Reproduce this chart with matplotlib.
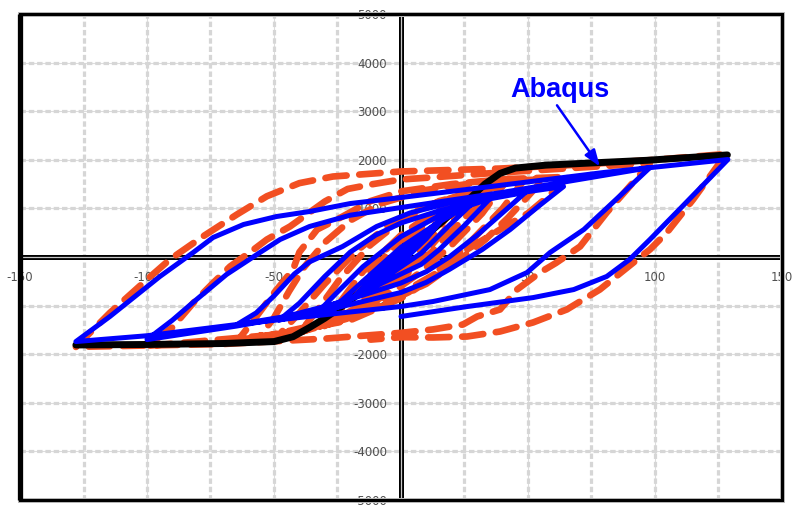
import matplotlib
matplotlib.use("Agg")
import matplotlib.pyplot as plt
from matplotlib.patches import Rectangle

plt.rcParams['axes.unicode_minus'] = False
plt.rcParams['font.family'] = ['DejaVu Sans']

# ---------------- data ----------------
x_ticks = [-150, -100, -50, 0, 50, 100, 150]
x_minor = [-125, -75, -25, 25, 75, 125]
y_ticks = [-5000, -4000, -3000, -2000, -1000, 0, 1000, 2000, 3000, 4000, 5000]

# Black backbone (envelope)
bb_x = [-128, -100, -70, -50, -42.5, -36, -30, -20, -10, 0, 10, 20, 28, 33, 39, 45, 57, 97, 128.5]
bb_y = [-1810, -1800, -1780, -1740, -1640, -1450, -1260, -900, -450, 0, 450, 900, 1250, 1500, 1720, 1830, 1890, 1990, 2100]

# Abaqus (blue) branches: initial load, then reload (neg->pos) / unload (pos->next neg)
ab_init_x = [0, -6]
ab_init_y = [0, -280]
ab_ra_x = [-6, 0, 6]
ab_ra_y = [-280, 20, 300]
ab_ua_x = [6, 0, -12]
ab_ua_y = [300, -20, -560]
ab_rb_x = [-12, 0, 12]
ab_rb_y = [-560, 40, 600]
ab_ub_x = [12, 0, -18]
ab_ub_y = [600, -60, -800]
ab_r1_x = [-18, -10, 0, 10, 18]
ab_r1_y = [-800, -380, 100, 520, 880]
ab_u1_x = [18, 10, 0, -15, -28]
ab_u1_y = [880, 380, -120, -720, -1120]
ab_r2_x = [-28, -15, 0, 15, 28]
ab_r2_y = [-1120, -500, 200, 720, 1100]
ab_u2_x = [28, 18, 8, 0, -15, -33]
ab_u2_y = [1100, 600, 80, -200, -750, -1150]
ab_r3_x = [-33, -25, -15, 0, 15, 35]
ab_r3_y = [-1150, -720, -200, 420, 850, 1200]
ab_u3_x = [35, 25, 15, 8, 0, -20, -35, -48]
ab_u3_y = [1200, 650, 150, -150, -350, -850, -1120, -1300]
ab_r4_x = [-48, -40, -30, -20, -10, 0, 15, 30, 49]
ab_r4_y = [-1300, -950, -400, 100, 450, 700, 950, 1150, 1330]
ab_u4_x = [49, 43, 30, 19, 10, 0, -25, -45, -64.6]
ab_u4_y = [1330, 1050, 450, 0, -300, -535, -950, -1220, -1390]
ab_r5_x = [-64.6, -57, -50, -42, -36, -23, -9.6, 3.5, 19, 32, 48, 64]
ab_r5_y = [-1390, -1150, -800, -350, -100, 216, 628, 906, 1111, 1214, 1330, 1450]
ab_u5_x = [64, 55, 43, 32, 19, 10, 0, -30, -64.6, -100]
ab_u5_y = [1450, 1080, 566, 154, -257, -520, -730, -1100, -1420, -1700]
ab_r6_x = [-100, -90, -82, -68.7, -55.5, -47.6, -36, -20, 0, 40, 98]
ab_r6_y = [-1700, -1300, -940, -360, 93, 360, 628, 860, 1018, 1330, 1840]
ab_u6_x = [98, 85, 72, 58.7, 49.6, 35, 12.6, 0, -40, -64.6, -100, -128]
ab_u6_y = [1840, 1200, 566, 93, -320, -670, -916, -1018, -1245, -1389, -1620, -1740]
ab_r7_x = [-128, -114.6, -94.9, -81.8, -74, -62, -49, -36, -20, 0, 40, 80, 128.7]
ab_r7_y = [-1740, -1224, -400, 93, 401, 669, 833, 936, 1100, 1224, 1480, 1740, 2006]
ab_u7_x = [128.7, 110, 98, 90, 81, 68, 52, 26, 0]
ab_u7_y = [2006, 1000, 360, -51, -400, -670, -835, -1020, -1224]

# Experimental (orange dashed) branches
ex_init_x = [0, -10, -20]
ex_init_y = [0, -600, -1200]
ex_r1_x = [-20, -12, 0, 10, 22]
ex_r1_y = [-1200, -600, 200, 700, 1100]
ex_u1_x = [22, 12, 0, -15, -28]
ex_u1_y = [1100, 400, -300, -950, -1380]
ex_r2_x = [-28, -20, -10, 0, 12, 28]
ex_r2_y = [-1380, -850, -200, 350, 850, 1250]
ex_u2_x = [28, 18, 8, 0, -15, -33]
ex_u2_y = [1250, 600, 0, -400, -1000, -1500]
ex_r3_x = [-33, -25, -15, 0, 15, 35]
ex_r3_y = [-1500, -1000, -300, 450, 1000, 1400]
ex_u3_x = [35, 25, 12, 0, -20, -40]
ex_u3_y = [1400, 800, 100, -450, -1150, -1560]
ex_r4_x = [-40, -33, -24, -12, 0, 15, 40]
ex_r4_y = [-1560, -1100, -450, 250, 750, 1150, 1470]
ex_u4_x = [40, 32, 20, 8, 0, -20, -48]
ex_u4_y = [1470, 900, 250, -300, -600, -1200, -1600]
ex_r5_x = [-48, -40, -30, -18, -5, 10, 28, 48]
ex_r5_y = [-1600, -1150, -550, 100, 650, 1050, 1350, 1550]
ex_u5_x = [48, 40, 28, 15, 0, -25, -56]
ex_u5_y = [1550, 1000, 350, -300, -750, -1300, -1660]
ex_r6_x = [-56, -50, -44, -38, -30, -20, -8, 10, 30, 56]
ex_r6_y = [-1660, -1250, -700, -200, 300, 750, 1100, 1380, 1530, 1600]
ex_u6_x = [56, 50, 42, 33, 22, 10, 0, -20, -40, -64]
ex_u6_y = [1600, 1250, 800, 350, -100, -550, -800, -1250, -1550, -1700]
ex_r7_x = [-64, -58, -50, -42.5, -40, -33, -23, -12, 0, 20, 40, 66]
ex_r7_y = [-1700, -1300, -740, -257, 100, 566, 833, 1150, 1350, 1500, 1600, 1650]
ex_u7_x = [66, 58, 50, 39, 26, 18, 7.5, 0, -20, -50, -100]
ex_u7_y = [1650, 1250, 900, 566, 154, -123, -600, -850, -1300, -1600, -1830]
ex_r8_x = [-100, -90, -81.8, -74, -67.3, -58, -52.8, -43.7, -30, -21, -11, 0, 10, 39, 70, 98]
ex_r8_y = [-1830, -1450, -946, -535, -195, 154, 360, 628, 1142, 1400, 1500, 1595, 1630, 1738, 1840, 1930]
ex_u8_x = [98, 81, 70.5, 61, 54.7, 45.7, 39, 30, 24.4, 12.6, 0, -30, -70, -128]
ex_u8_y = [1930, 915, 216, -123, -320, -669, -1080, -1224, -1389, -1490, -1560, -1680, -1790, -1850]
ex_r9_x = [-128, -114.6, -100, -91, -78, -64.6, -52.8, -40, -26.8, 0, 39, 70, 100, 128]
ex_r9_y = [-1850, -1148, -463, -51, 422, 875, 1250, 1520, 1656, 1760, 1820, 1900, 2000, 2120]
ex_u9_x = [128, 115, 104.7, 98, 91.3, 78.3, 65.3, 52, 39, 26, 12.6, 0, -12]
ex_u9_y = [2120, 1183, 504, 154, -123, -669, -1080, -1347, -1533, -1636, -1656, -1650, -1700]

label_text = "Abaqus"
label_xy = (62.6, 3446)
arrow_tip = (78.3, 1862)

# ---------------- build paths ----------------
def chain(*segs):
    xs, ys = [], []
    for sx, sy in segs:
        if xs:
            sx, sy = sx[1:], sy[1:]
        xs += list(sx)
        ys += list(sy)
    return xs, ys

ab_x, ab_y = chain((ab_init_x, ab_init_y), (ab_ra_x, ab_ra_y), (ab_ua_x, ab_ua_y),
                   (ab_rb_x, ab_rb_y), (ab_ub_x, ab_ub_y),
                   (ab_r1_x, ab_r1_y), (ab_u1_x, ab_u1_y),
                   (ab_r2_x, ab_r2_y), (ab_u2_x, ab_u2_y), (ab_r3_x, ab_r3_y),
                   (ab_u3_x, ab_u3_y), (ab_r4_x, ab_r4_y), (ab_u4_x, ab_u4_y),
                   (ab_r5_x, ab_r5_y), (ab_u5_x, ab_u5_y), (ab_r6_x, ab_r6_y),
                   (ab_u6_x, ab_u6_y), (ab_r7_x, ab_r7_y), (ab_u7_x, ab_u7_y))
ex_x, ex_y = chain((ex_init_x, ex_init_y), (ex_r1_x, ex_r1_y), (ex_u1_x, ex_u1_y),
                   (ex_r2_x, ex_r2_y), (ex_u2_x, ex_u2_y), (ex_r3_x, ex_r3_y),
                   (ex_u3_x, ex_u3_y), (ex_r4_x, ex_r4_y), (ex_u4_x, ex_u4_y),
                   (ex_r5_x, ex_r5_y), (ex_u5_x, ex_u5_y), (ex_r6_x, ex_r6_y),
                   (ex_u6_x, ex_u6_y), (ex_r7_x, ex_r7_y), (ex_u7_x, ex_u7_y),
                   (ex_r8_x, ex_r8_y), (ex_u8_x, ex_u8_y), (ex_r9_x, ex_r9_y),
                   (ex_u9_x, ex_u9_y))

# ---------------- figure ----------------
fig = plt.figure(figsize=(8.03, 5.13), dpi=100)
ax = fig.add_axes([20 / 803, 13 / 513, 762 / 803, 486 / 513])
ax.set_xlim(-150, 150)
ax.set_ylim(-5000, 5000)

ax.set_xticks(x_ticks)
ax.set_yticks(y_ticks)
ax.set_xticklabels([str(v) for v in x_ticks])
ax.set_yticklabels([str(v) for v in y_ticks])

# grid (drawn below tick labels)
dot = (0, (1.7, 0.9))
for v in x_ticks + x_minor:
    ax.axvline(v, color='#d6d6d6', lw=2.3, linestyle=dot, zorder=0.5)
for v in y_ticks:
    ax.axhline(v, color='#d6d6d6', lw=2.3, linestyle=dot, zorder=0.5)
for v in x_ticks:
    ax.axvline(v, color='#dddddd', lw=0.8, zorder=0.4)
for v in y_ticks:
    ax.axhline(v, color='#dddddd', lw=0.8, zorder=0.4)

# axes through origin
for s in ['top', 'right']:
    ax.spines[s].set_visible(False)
ax.spines['left'].set_position(('data', 0))
ax.spines['bottom'].set_position(('data', 0))
for s in ['left', 'bottom']:
    ax.spines[s].set_linewidth(3.6)
    ax.spines[s].set_color('black')
    ax.spines[s].set_zorder(1.6)
ax.axhline(0, color='#c8c8c8', lw=0.9, zorder=1.65)
ax.axvline(0, color='#c8c8c8', lw=0.9, zorder=1.65)

ax.tick_params(which='both', length=0, labelsize=8.5, labelcolor='#505050')
ax.tick_params(axis='x', pad=10)
ax.tick_params(axis='y', pad=10)

# outer frame
ax.add_patch(Rectangle((0, 0), 1, 1, transform=ax.transAxes, fill=False,
                       ec='#bbbbbb', lw=3.6, zorder=2.9, clip_on=False))
ax.add_patch(Rectangle((0, 0), 1, 1, transform=ax.transAxes, fill=False,
                       ec='black', lw=2.2, zorder=3, clip_on=False))
ax.plot([0, 0], [0, 1], transform=ax.transAxes, color='black', lw=3.8,
        solid_capstyle='butt', zorder=3.1, clip_on=False)

# data
ax.plot(ex_x, ex_y, color='#f24f22', lw=4.8, linestyle=(0, (3.2, 1.9)),
        dash_capstyle='round', dash_joinstyle='round', zorder=2.0)
ax.plot(bb_x, bb_y, color='black', lw=5.0, solid_capstyle='round',
        solid_joinstyle='round', zorder=2.2)
ax.plot(ab_x, ab_y, color='#0000ff', lw=3.6, solid_capstyle='round',
        solid_joinstyle='round', zorder=2.4)

ax.annotate(label_text, xy=arrow_tip, xytext=label_xy, ha='center', va='center',
            color='#0000ff', fontsize=19.5, fontweight='bold',
            family=['Liberation Sans', 'DejaVu Sans'], zorder=4,
            arrowprops=dict(arrowstyle='-|>,head_length=0.55,head_width=0.2',
                            color='#0000ff', lw=1.8, mutation_scale=18,
                            relpos=(0.45, 0.0), shrinkA=0, shrinkB=0))

fig.savefig('out.png', dpi=100)
